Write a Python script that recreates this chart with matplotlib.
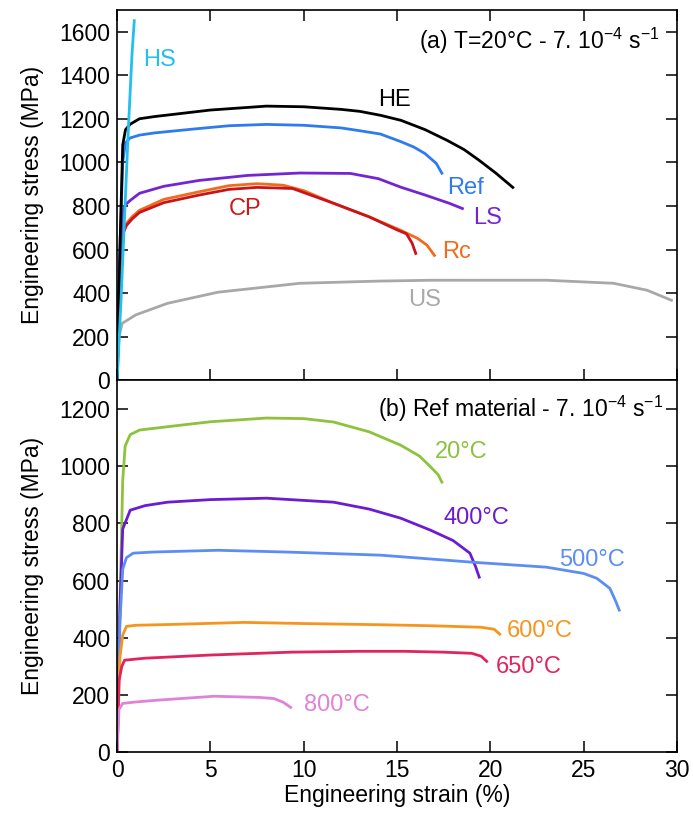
import matplotlib
matplotlib.use("Agg")
import matplotlib.pyplot as plt

plt.rcParams['font.family'] = ['Liberation Sans', 'DejaVu Sans']

# ---------------- Panel (a) data: T=20°C ----------------
hs_x = [0, 0.2, 0.4, 0.6, 0.8, 0.92]
hs_y = [0, 350, 750, 1150, 1500, 1650]

he_x = [0, 0.15, 0.3, 0.45, 0.7, 1.2, 2, 3, 5, 8, 10, 12, 13, 14.1, 15.2, 16.5, 17.7, 18.6, 19.4, 20.3, 21.2]
he_y = [0, 600, 1080, 1150, 1175, 1200, 1210, 1220, 1240, 1258, 1255, 1243, 1234, 1216, 1193, 1150, 1100, 1058, 1009, 950, 885]

ref_x = [0, 0.15, 0.3, 0.45, 0.7, 1.2, 2, 4, 6, 8, 10, 12, 13, 14.1, 15.2, 15.9, 16.5, 17.1, 17.4]
ref_y = [0, 600, 1000, 1090, 1112, 1125, 1135, 1152, 1168, 1174, 1170, 1158, 1145, 1130, 1095, 1070, 1040, 995, 950]

ls_x = [0, 0.15, 0.3, 0.5, 0.7, 1.2, 2.5, 4.4, 7, 9.8, 12.5, 14, 15.2, 16.5, 17.8, 18.5]
ls_y = [0, 550, 780, 810, 825, 858, 890, 917, 940, 951, 949, 925, 886, 850, 812, 788]

rc_x = [0, 0.15, 0.3, 0.5, 0.8, 1.2, 2.5, 4.4, 6, 7.5, 8.9, 10, 11.6, 13.5, 15.2, 16.1, 16.6, 17.0]
rc_y = [0, 500, 680, 720, 750, 780, 830, 865, 893, 902, 895, 870, 812, 750, 688, 651, 620, 573]

cp_x = [0, 0.15, 0.3, 0.5, 0.8, 1.2, 2.5, 4.4, 6, 7.5, 9.4, 11.6, 13.5, 15.0, 15.5, 15.8, 16.0]
cp_y = [0, 500, 670, 710, 740, 770, 815, 850, 876, 885, 880, 812, 750, 690, 672, 630, 582]

us_x = [0, 0.1, 0.27, 1, 2.7, 5.4, 9.8, 14, 16.9, 23, 26.6, 28.4, 29.7]
us_y = [0, 200, 261, 300, 353, 404, 445, 455, 459, 459, 445, 413, 367]

# ---------------- Panel (b) data: Ref material ----------------
t20_x = [0, 0.15, 0.3, 0.43, 0.7, 1.2, 3, 5, 8, 10, 11.6, 13.5, 15.2, 16.2, 16.8, 17.2, 17.4]
t20_y = [0, 500, 950, 1070, 1110, 1126, 1140, 1155, 1168, 1166, 1154, 1120, 1073, 1035, 997, 970, 944]

t400_x = [0, 0.15, 0.3, 0.7, 1.5, 2.7, 5, 8, 11.6, 13.5, 15.2, 16.8, 18.0, 18.9, 19.2, 19.4]
t400_y = [0, 500, 780, 846, 862, 874, 883, 888, 874, 850, 818, 776, 740, 696, 650, 612]

t500_x = [0, 0.15, 0.3, 0.5, 0.86, 2, 5.4, 9, 14.1, 19.1, 23, 25, 25.7, 26.4, 26.7, 26.9]
t500_y = [0, 450, 640, 680, 696, 700, 706, 700, 689, 664, 647, 625, 608, 573, 530, 497]

t600_x = [0, 0.15, 0.3, 0.5, 1, 3, 6.8, 10, 14, 17, 19.5, 20.2, 20.5]
t600_y = [0, 330, 410, 440, 444, 447, 454, 450, 446, 442, 437, 430, 413]

t650_x = [0, 0.1, 0.25, 0.4, 1.5, 5, 9.3, 13, 15.4, 17.5, 19.0, 19.5, 19.8]
t650_y = [0, 250, 300, 322, 329, 340, 350, 353, 353, 350, 346, 336, 318]

t800_x = [0, 0.1, 0.3, 1, 2.1, 5.2, 7.6, 8.4, 8.9, 9.3]
t800_y = [0, 150, 171, 176, 182, 196, 192, 188, 175, 157]

xticks = [0, 5, 10, 15, 20, 25, 30]
yticks_a = [0, 200, 400, 600, 800, 1000, 1200, 1400, 1600]
yticks_b = [0, 200, 400, 600, 800, 1000, 1200]

fig = plt.figure(figsize=(6.93, 8.16), dpi=100)
ax1 = fig.add_axes([0.169, 0.534, 0.808, 0.454])
ax2 = fig.add_axes([0.169, 0.078, 0.808, 0.456])

lw = 2.0
# Panel (a)
ax1.plot(us_x, us_y, color='#A8A8A8', lw=lw)
ax1.plot(rc_x, rc_y, color='#F26A1B', lw=lw)
ax1.plot(cp_x, cp_y, color='#C8141A', lw=lw)
ax1.plot(ls_x, ls_y, color='#7425D2', lw=lw)
ax1.plot(ref_x, ref_y, color='#2E7BF0', lw=lw)
ax1.plot(he_x, he_y, color='black', lw=lw)
ax1.plot(hs_x, hs_y, color='#22BFEF', lw=lw)

fs_lab = 17
fs = 16.5
ax1.text(1.39, 1468, 'HS', color='#22BFEF', fontsize=fs_lab, va='center')
ax1.text(14.0, 1284, 'HE', color='black', fontsize=fs_lab, va='center')
ax1.text(17.7, 880, 'Ref', color='#2E7BF0', fontsize=fs_lab, va='center')
ax1.text(19.1, 743, 'LS', color='#7425D2', fontsize=fs_lab, va='center')
ax1.text(17.4, 587, 'Rc', color='#F26A1B', fontsize=fs_lab, va='center')
ax1.text(6.0, 784, 'CP', color='#D01818', fontsize=fs_lab, va='center')
ax1.text(15.6, 367, 'US', color='#A8A8A8', fontsize=fs_lab, va='center')
ax1.text(0.968, 0.915, r'(a) T=20°C - 7. 10$^{\mathregular{-4}}$ s$^{\mathregular{-1}}$',
         transform=ax1.transAxes, ha='right', va='center', fontsize=fs)

ax1.set_xlim(0, 30)
ax1.set_ylim(0, 1700)
ax1.set_xticks(xticks)
ax1.set_yticks(yticks_a)
ax1.tick_params(axis='x', labelbottom=False)
ax1.set_ylabel('Engineering stress (MPa)', fontsize=fs, labelpad=11)

# Panel (b)
ax2.plot(t20_x, t20_y, color='#8DC23C', lw=lw)
ax2.plot(t400_x, t400_y, color='#6B1BD0', lw=lw)
ax2.plot(t500_x, t500_y, color='#5B8DF5', lw=lw)
ax2.plot(t600_x, t600_y, color='#F7941E', lw=lw)
ax2.plot(t650_x, t650_y, color='#E0245E', lw=lw)
ax2.plot(t800_x, t800_y, color='#DE83D8', lw=lw)

ax2.text(17.0, 1049, '20°C', color='#8DC23C', fontsize=fs_lab, va='center')
ax2.text(17.5, 818, '400°C', color='#6B1BD0', fontsize=fs_lab, va='center')
ax2.text(23.7, 671, '500°C', color='#5B8DF5', fontsize=fs_lab, va='center')
ax2.text(20.9, 423, '600°C', color='#F7941E', fontsize=fs_lab, va='center')
ax2.text(20.3, 297, '650°C', color='#E0245E', fontsize=fs_lab, va='center')
ax2.text(10.0, 164, '800°C', color='#DE83D8', fontsize=fs_lab, va='center')
ax2.text(0.975, 0.923, r'(b) Ref material - 7. 10$^{\mathregular{-4}}$ s$^{\mathregular{-1}}$',
         transform=ax2.transAxes, ha='right', va='center', fontsize=fs)

ax2.set_xlim(0, 30)
ax2.set_ylim(0, 1300)
ax2.set_xticks(xticks)
ax2.set_yticks(yticks_b)
ax2.set_xlabel('Engineering strain (%)', fontsize=fs, labelpad=1)
ax2.set_ylabel('Engineering stress (MPa)', fontsize=fs, labelpad=11)

for ax in (ax1, ax2):
    for s in ax.spines.values():
        s.set_linewidth(1.2)
    ax.tick_params(direction='in', length=8, width=1.1, labelsize=fs,
                   right=True, top=True, pad=5)
ax2.tick_params(top=False)

fig.savefig('out.png', dpi=100)
